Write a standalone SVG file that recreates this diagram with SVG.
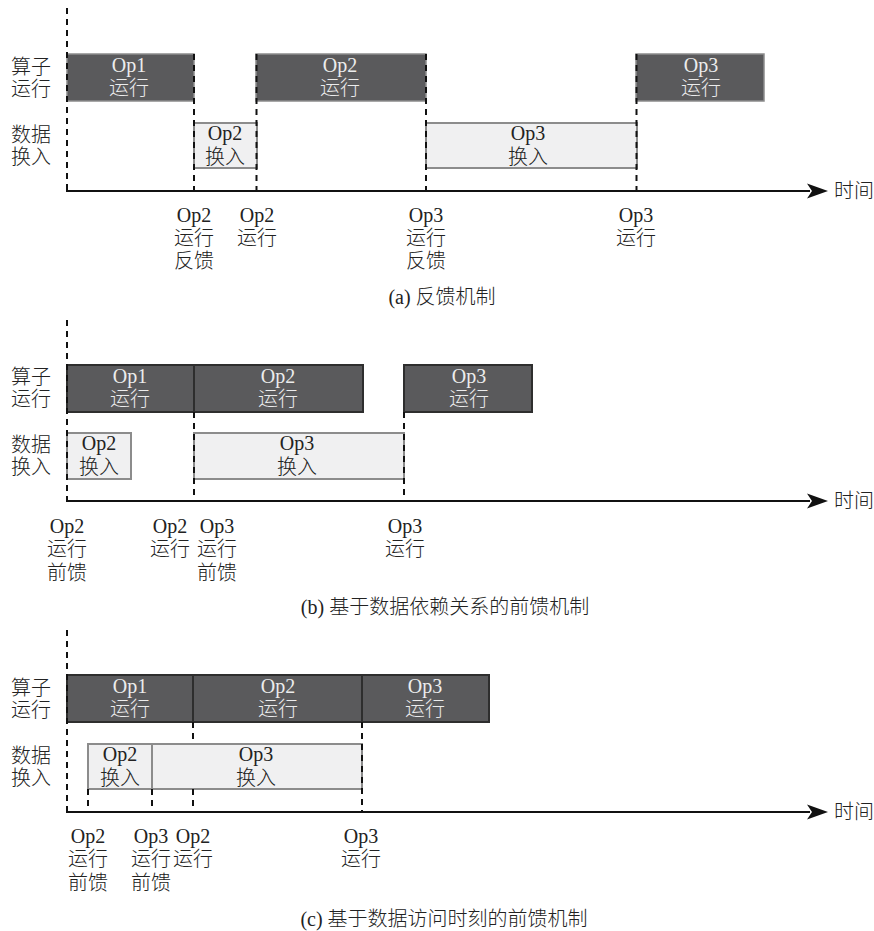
<svg xmlns="http://www.w3.org/2000/svg" width="874" height="931" viewBox="0 0 874 931">
<style>
text{font-family:"Liberation Serif","Noto Sans CJK SC",serif;font-size:20px;font-weight:300;fill:#222;}
.m{text-anchor:middle;}
.w{fill:#ececec;}
.runA{fill:#5a5a5c;stroke:#8c8c8c;stroke-width:1.5;}
.run{fill:#5a5a5c;stroke:#2e2e2e;stroke-width:2;}
.swap{fill:#f0f0f1;stroke:#8c8c8c;stroke-width:2;}
.dash{stroke:#111;stroke-width:2;stroke-dasharray:6 5;fill:none;}
.axis{stroke:#111;stroke-width:2.2;fill:none;}
.head{fill:#111;}
</style>
<defs>
<g id="arrow"><polygon class="head" points="828,191 807,183.5 812,191 807,198.5"/></g>
</defs>
<rect width="874" height="931" fill="#fff"/>

<!-- Panel (a) -->
<g id="panel-a">
 <g id="a-rowlabels">
  <text class="m" x="31" y="74">算子</text><text class="m" x="31" y="96">运行</text>
  <text class="m" x="31" y="142">数据</text><text class="m" x="31" y="164">换入</text>
 </g>
 <g id="a-op1-run"><rect class="runA" x="67" y="54" width="127" height="47"/><text class="m w" x="129" y="72">Op1</text><text class="m w" x="129" y="95">运行</text></g>
 <g id="a-op2-run"><rect class="runA" x="256" y="54" width="170" height="47"/><text class="m w" x="340" y="72">Op2</text><text class="m w" x="340" y="95">运行</text></g>
 <g id="a-op3-run"><rect class="runA" x="636" y="54" width="128" height="47"/><text class="m w" x="701" y="72">Op3</text><text class="m w" x="701" y="95">运行</text></g>
 <g id="a-op2-swap"><rect class="swap" x="194" y="123" width="63" height="45"/><text class="m" x="225" y="140">Op2</text><text class="m" x="225" y="164">换入</text></g>
 <g id="a-op3-swap"><rect class="swap" x="426" y="123" width="211" height="45"/><text class="m" x="528" y="140">Op3</text><text class="m" x="528" y="164">换入</text></g>
 <g id="a-connectors">
  <line class="dash" x1="67" y1="8" x2="67" y2="191"/>
  <line class="dash" x1="194" y1="54" x2="194" y2="191"/>
  <line class="dash" x1="256.5" y1="54" x2="256.5" y2="191"/>
  <line class="dash" x1="426" y1="54" x2="426" y2="191"/>
  <line class="dash" x1="636.5" y1="54" x2="636.5" y2="191"/>
  <line class="axis" x1="66" y1="191" x2="810" y2="191"/>
  <use href="#arrow"/>
 </g>
 <text x="834" y="198">时间</text>
 <g id="a-ticks">
  <text class="m" x="194" y="222">Op2</text><text class="m" x="194" y="245">运行</text><text class="m" x="194" y="268">反馈</text>
  <text class="m" x="257" y="222">Op2</text><text class="m" x="257" y="245">运行</text>
  <text class="m" x="426" y="222">Op3</text><text class="m" x="426" y="245">运行</text><text class="m" x="426" y="268">反馈</text>
  <text class="m" x="636" y="222">Op3</text><text class="m" x="636" y="245">运行</text>
 </g>
 <text class="m" x="442" y="304">(a) 反馈机制</text>
</g>

<!-- Panel (b) -->
<g id="panel-b" transform="translate(0,310)">
 <g id="b-rowlabels">
  <text class="m" x="31" y="74">算子</text><text class="m" x="31" y="96">运行</text>
  <text class="m" x="31" y="142">数据</text><text class="m" x="31" y="164">换入</text>
 </g>
 <g id="b-op1-run"><rect class="run" x="67" y="55" width="127" height="47"/><text class="m w" x="130" y="73">Op1</text><text class="m w" x="130" y="96">运行</text></g>
 <g id="b-op2-run"><rect class="run" x="194" y="55" width="169" height="47"/><text class="m w" x="278" y="73">Op2</text><text class="m w" x="278" y="96">运行</text></g>
 <g id="b-op3-run"><rect class="run" x="404" y="55" width="128" height="47"/><text class="m w" x="469" y="73">Op3</text><text class="m w" x="469" y="96">运行</text></g>
 <g id="b-op2-swap"><rect class="swap" x="67" y="123" width="64" height="46"/><text class="m" x="99" y="140">Op2</text><text class="m" x="99" y="164">换入</text></g>
 <g id="b-op3-swap"><rect class="swap" x="194" y="123" width="210" height="46"/><text class="m" x="297" y="140">Op3</text><text class="m" x="297" y="164">换入</text></g>
 <g id="b-connectors">
  <line class="dash" x1="67" y1="10" x2="67" y2="191"/>
  <line class="dash" x1="194" y1="102" x2="194" y2="191"/>
  <line class="dash" x1="404" y1="102" x2="404" y2="191"/>
  <line class="axis" x1="66" y1="191" x2="810" y2="191"/>
  <use href="#arrow"/>
 </g>
 <text x="834" y="198">时间</text>
 <g id="b-ticks">
  <text class="m" x="67" y="223">Op2</text><text class="m" x="67" y="246">运行</text><text class="m" x="67" y="270">前馈</text>
  <text class="m" x="170" y="223">Op2</text><text class="m" x="170" y="246">运行</text>
  <text class="m" x="217" y="223">Op3</text><text class="m" x="217" y="246">运行</text><text class="m" x="217" y="270">前馈</text>
  <text class="m" x="405" y="223">Op3</text><text class="m" x="405" y="246">运行</text>
 </g>
 <text class="m" x="445" y="304">(b) 基于数据依赖关系的前馈机制</text>
</g>

<!-- Panel (c) -->
<g id="panel-c" transform="translate(0,621)">
 <g id="c-rowlabels">
  <text class="m" x="31" y="74">算子</text><text class="m" x="31" y="96">运行</text>
  <text class="m" x="31" y="142">数据</text><text class="m" x="31" y="164">换入</text>
 </g>
 <g id="c-op1-run"><rect class="run" x="67" y="54" width="126" height="47"/><text class="m w" x="130" y="72">Op1</text><text class="m w" x="130" y="95">运行</text></g>
 <g id="c-op2-run"><rect class="run" x="193" y="54" width="169" height="47"/><text class="m w" x="278" y="72">Op2</text><text class="m w" x="278" y="95">运行</text></g>
 <g id="c-op3-run"><rect class="run" x="362" y="54" width="127" height="47"/><text class="m w" x="425" y="72">Op3</text><text class="m w" x="425" y="95">运行</text></g>
 <g id="c-op2-swap"><rect class="swap" x="88" y="123" width="64" height="45"/><text class="m" x="120" y="140">Op2</text><text class="m" x="120" y="164">换入</text></g>
 <g id="c-op3-swap"><rect class="swap" x="152" y="123" width="210" height="45"/><text class="m" x="256" y="140">Op3</text><text class="m" x="256" y="164">换入</text></g>
 <g id="c-connectors">
  <line class="dash" x1="67" y1="9" x2="67" y2="191"/>
  <line class="dash" x1="88" y1="168" x2="88" y2="191"/>
  <line class="dash" x1="152" y1="168" x2="152" y2="191"/>
  <line class="dash" x1="193" y1="101" x2="193" y2="123"/>
  <line class="dash" x1="193" y1="168" x2="193" y2="191"/>
  <line class="dash" x1="362" y1="101" x2="362" y2="191"/>
  <line class="axis" x1="66" y1="191" x2="810" y2="191"/>
  <use href="#arrow"/>
 </g>
 <text x="834" y="198">时间</text>
 <g id="c-ticks">
  <text class="m" x="88" y="222">Op2</text><text class="m" x="88" y="245">运行</text><text class="m" x="88" y="269">前馈</text>
  <text class="m" x="151" y="222">Op3</text><text class="m" x="151" y="245">运行</text><text class="m" x="151" y="269">前馈</text>
  <text class="m" x="193" y="222">Op2</text><text class="m" x="193" y="245">运行</text>
  <text class="m" x="361" y="222">Op3</text><text class="m" x="361" y="245">运行</text>
 </g>
 <text class="m" x="444" y="305">(c) 基于数据访问时刻的前馈机制</text>
</g>
</svg>
